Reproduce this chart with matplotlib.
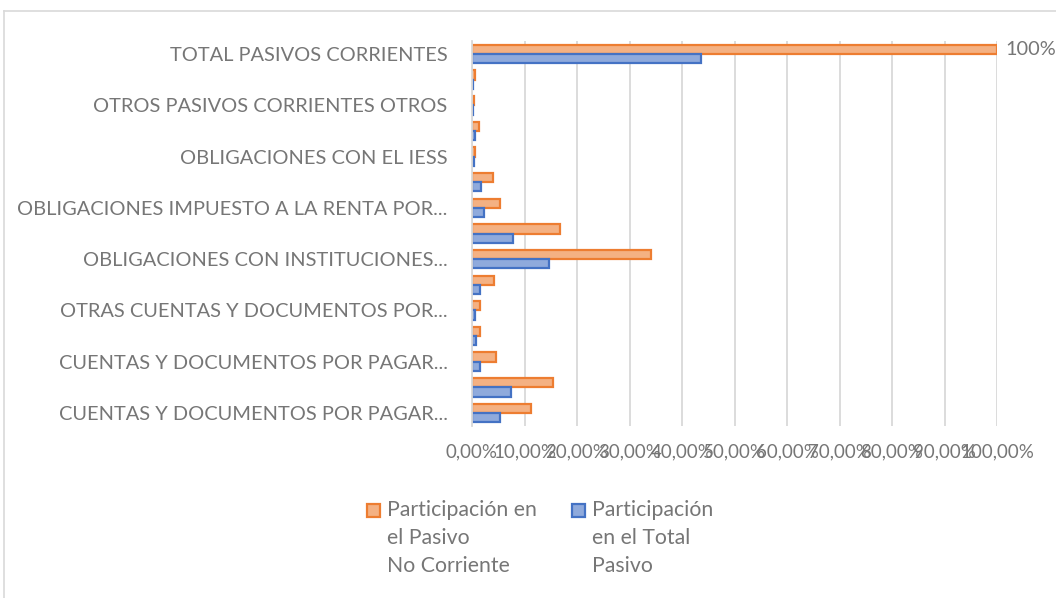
import matplotlib
matplotlib.use("Agg")
import matplotlib.pyplot as plt
from matplotlib.patches import Rectangle
from matplotlib.lines import Line2D
import numpy as np

# categories from top to bottom (only every other one is labelled in the chart)
categories = [
    "TOTAL PASIVOS CORRIENTES",
    "",
    "OTROS PASIVOS CORRIENTES OTROS",
    "",
    "OBLIGACIONES CON EL IESS",
    "",
    "OBLIGACIONES IMPUESTO A LA RENTA POR...",
    "",
    "OBLIGACIONES CON INSTITUCIONES...",
    "",
    "OTRAS CUENTAS Y DOCUMENTOS POR...",
    "",
    "CUENTAS Y DOCUMENTOS POR PAGAR...",
    "",
    "CUENTAS Y DOCUMENTOS POR PAGAR...",
]
# values in %, same order (top to bottom)
pasivo_no_corriente = [100.0, 0.6, 0.4, 1.3, 0.6, 4.0, 5.3, 16.8, 34.0, 4.1, 1.6, 1.6, 4.5, 15.4, 11.2]
total_pasivo = [43.6, 0.25, 0.2, 0.6, 0.4, 1.8, 2.3, 7.9, 14.6, 1.6, 0.6, 0.8, 1.5, 7.4, 5.3]
series_names = ["Participación en\nel Pasivo\nNo Corriente", "Participación\nen el Total\nPasivo"]
x_ticks = [0, 10, 20, 30, 40, 50, 60, 70, 80, 90, 100]
x_ticklabels = ["0,00%", "10,00%", "20,00%", "30,00%", "40,00%", "50,00%",
                "60,00%", "70,00%", "80,00%", "90,00%", "100,00%"]
top_label = "100%"

W, H = 1056, 598
fig = plt.figure(figsize=(W / 100, H / 100), dpi=100)
font = "Lato"
txt_color = "#767676"
fs_cat = 14.4
fs_x = 13.5
fs_leg = 15.3

ax = fig.add_axes([472 / W, 1 - 425.8 / H, (997 - 472) / W, (425.8 - 41.2) / H])

n = len(categories)
y = np.arange(n)[::-1]  # top category gets highest y
h = 0.36
orange_fill, orange_edge = "#F4B183", "#ED7D31"
blue_fill, blue_edge = "#8FAADC", "#4472C4"
ax.barh(y + h / 2, pasivo_no_corriente, height=h, color=orange_fill,
        edgecolor=orange_edge, linewidth=1.6, zorder=3)
ax.barh(y - h / 2, total_pasivo, height=h, color=blue_fill,
        edgecolor=blue_edge, linewidth=1.6, zorder=3)

ax.set_xlim(0, 100)
ax.set_ylim(-0.5, n - 0.5)
ax.set_xticks(x_ticks)
ax.set_xticklabels(x_ticklabels, fontsize=fs_x, color=txt_color, family=font)
ax.set_yticks(y)
ax.set_yticklabels(categories, fontsize=fs_cat, color=txt_color, family=font)
ax.tick_params(axis="both", length=0)
ax.tick_params(axis="x", pad=13)
ax.tick_params(axis="y", pad=17.5)
ax.grid(axis="x", color="#D9D9D9", linewidth=1.3, zorder=0)
for s in ["top", "right", "bottom"]:
    ax.spines[s].set_visible(False)
ax.spines["left"].set_color("#D9D9D9")
ax.spines["left"].set_linewidth(1.3)
ax.spines["left"].set_zorder(4)

# data label on top bar
ax.text(pasivo_no_corriente[0] + 1.5, y[0] + h / 2, top_label, va="center", ha="left",
        fontsize=fs_cat, color=txt_color, family=font, clip_on=False)

# outer chart frame (left and top)
fig.add_artist(Line2D([4 / W, 4 / W], [0, 1 - 11 / H], transform=fig.transFigure,
                      color="#D9D9D9", linewidth=1.2))
fig.add_artist(Line2D([4 / W, 1], [1 - 11 / H, 1 - 11 / H], transform=fig.transFigure,
                      color="#D9D9D9", linewidth=1.2))

# legend
legend_items = [(367, 387, orange_fill, orange_edge, series_names[0]),
                (572, 592, blue_fill, blue_edge, series_names[1])]
for x0, xt, fc, ec, name in legend_items:
    fig.add_artist(Rectangle((x0 / W, 1 - 516.5 / H), 13 / W, 13 / H, transform=fig.transFigure,
                             facecolor=fc, edgecolor=ec, linewidth=1.6))
    fig.text(xt / W, 1 - 500 / H, name, ha="left", va="top", fontsize=fs_leg,
             color=txt_color, family=font, linespacing=1.5)

fig.savefig("out.png", dpi=100)
